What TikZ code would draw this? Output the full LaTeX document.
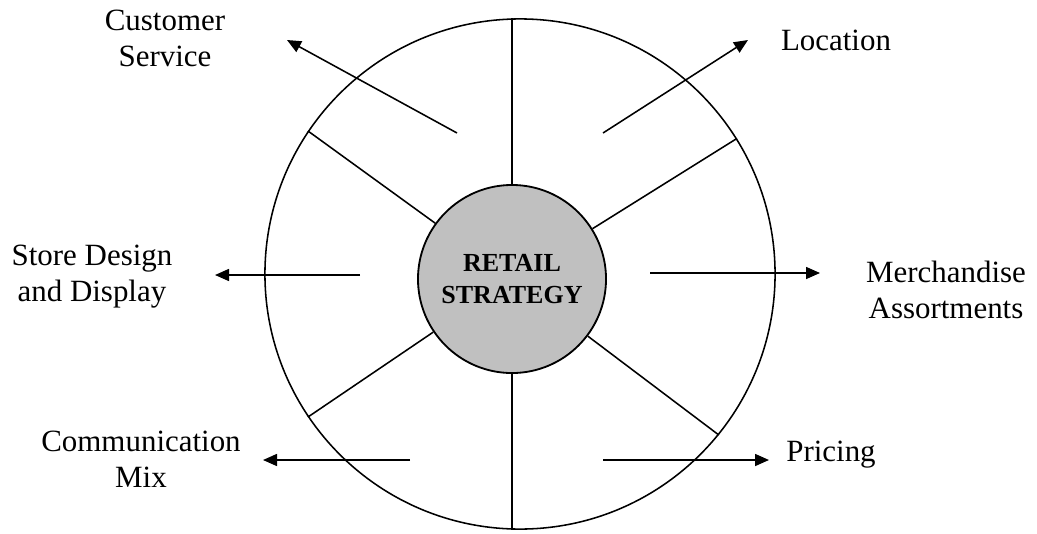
\documentclass[tikz,border=0pt]{standalone}
\usepackage{fontspec}
\setmainfont{Liberation Serif}
\usetikzlibrary{arrows.meta, positioning}
\definecolor{coregray}{RGB}{192,192,192}

\begin{document}
\begin{tikzpicture}[
		x=0.025cm, y=-0.025cm,
		rim/.style={circle, draw, line width=1.1pt, minimum size=12.75cm, inner sep=0pt},
		core/.style={circle, draw, fill=coregray, line width=1.3pt, minimum size=4.7cm, inner sep=0pt, align=center, font=\fontsize{18.5}{23}\selectfont\bfseries},
		itemtext/.style={align=center, font=\fontsize{22}{25.5}\selectfont},
		spoke/.style={line width=1.1pt},
		arrow/.style={-{Triangle[length=3.5mm, width=3mm]}, line width=1.1pt}
	]
	\useasboundingbox (0,0) rectangle (1037,533);

	% 1. Lingkaran luar dan inti strategi
	\node[rim] (rim) at (520,274) {};
	\node[core] (core) at (512,279) {RETAIL\\STRATEGY};

	% 2. Jari-jari dari inti ke lingkaran luar
	\draw[spoke] (core.north) -- (core.north |- rim.north);
	\draw[spoke] (core.south) -- (core.south |- rim.south);
	\draw[spoke] (core.144) -- (rim.146);
	\draw[spoke] (core.32) -- (rim.32);
	\draw[spoke] (core.214) -- (rim.214);
	\draw[spoke] (core.-37) -- (rim.-39);

	% 3. Label elemen strategi
	\node[itemtext] (service) at (165,38) {Customer\\Service};
	\node[itemtext] (location) at (836,40) {Location};
	\node[itemtext] (design) at (92,277) {Store Design\\and Display};
	\node[itemtext] (merch) at (946,290) {Merchandise\\Assortments};
	\node[itemtext] (comm) at (141,459) {Communication\\Mix};
	\node[itemtext] (pricing) at (831,455) {Pricing};

	% 4. Titik awal dan ujung panah
	\coordinate (service_from) at (457,133);
	\coordinate (service_to) at (287,40);
	\coordinate (location_from) at (603,133);
	\coordinate (location_to) at (748,40);
	\coordinate (design_from) at (360,275);
	\coordinate (design_to) at (215,275);
	\coordinate (merch_from) at (650,273);
	\coordinate (merch_to) at (820,273);
	\coordinate (comm_from) at (410,460);
	\coordinate (comm_to) at (263,460);
	\coordinate (pricing_from) at (603,460);
	\coordinate (pricing_to) at (769,460);

	% 5. Tarik panah keluar
	\draw[arrow] (service_from) -- (service_to);
	\draw[arrow] (location_from) -- (location_to);
	\draw[arrow] (design_from) -- (design_to);
	\draw[arrow] (merch_from) -- (merch_to);
	\draw[arrow] (comm_from) -- (comm_to);
	\draw[arrow] (pricing_from) -- (pricing_to);

\end{tikzpicture}
\end{document}
